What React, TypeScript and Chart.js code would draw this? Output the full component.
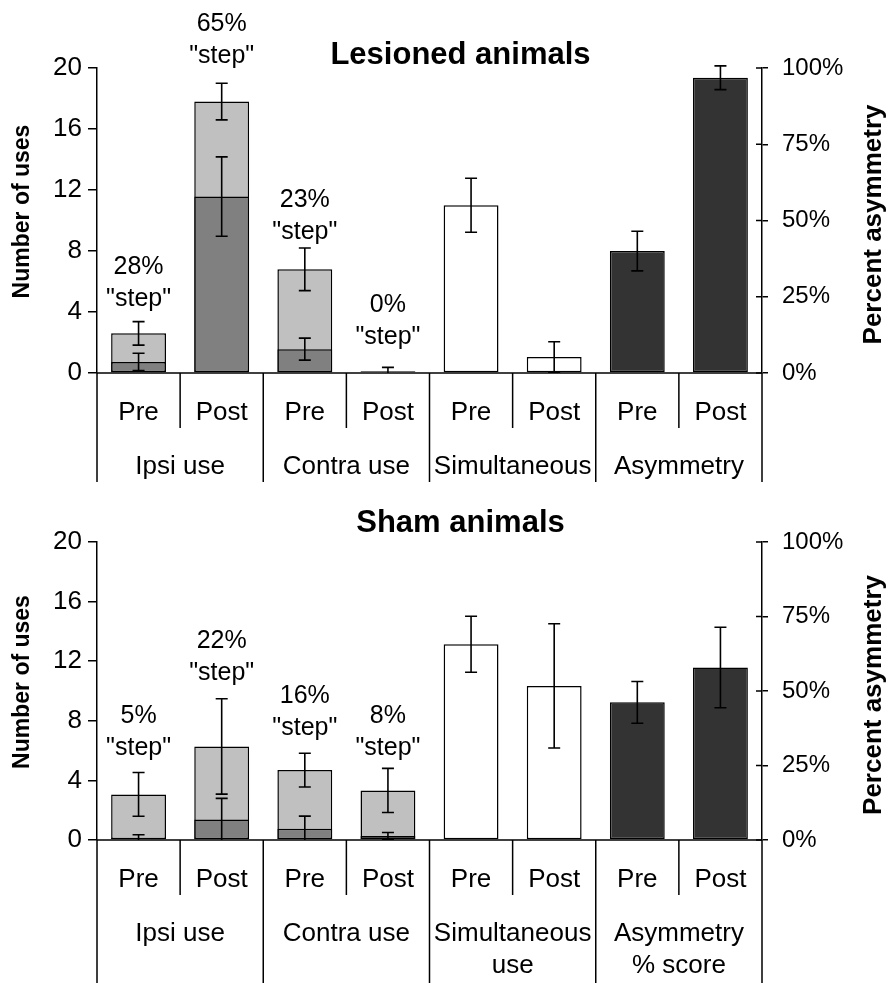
import React, { useEffect, useRef } from "react";
import { Chart, registerables } from "chart.js";

Chart.register(...registerables);

const FONT = '"Liberation Sans", Arial, Helvetica, sans-serif';
const INK = "#000000";

// Shared axis labels
const phaseLabels = ["Pre", "Post"];
const countTicks = [0, 4, 8, 12, 16, 20];
const percentTicks = [0, 25, 50, 75, 100];

// Lesioned animals — limb use bars in order: Ipsi Pre, Ipsi Post, Contra Pre, Contra Post
const lesionGroups = [["Ipsi use"], ["Contra use"], ["Simultaneous"], ["Asymmetry"]];
const lesionUse = [2.6, 17.8, 6.8, 0.12];
const lesionUseErr = [0.77, 1.2, 1.4, 0.25];
const lesionStepPct = [28, 65, 23, 0];
const lesionStepErr = [0.57, 2.6, 0.72, 0];
const lesionSimultaneous = [11.0, 1.05];
const lesionSimultaneousErr = [1.77, 1.0];
const lesionAsymmetry = [40, 96.8];
const lesionAsymmetryErr = [6.5, 3.9];
const lesionNoteLevel = [4.85, 20.8, 9.25, 2.36];

// Sham animals
const shamGroups = [["Ipsi use"], ["Contra use"], ["Simultaneous", "use"], ["Asymmetry", "% score"]];
const shamUse = [3.06, 6.28, 4.69, 3.33];
const shamUseErr = [1.47, 3.2, 1.13, 1.48];
const shamStepPct = [5, 22, 16, 8];
const shamStepErr = [0.2, 1.41, 0.85, 0.24];
const shamSimultaneous = [13.14, 10.34];
const shamSimultaneousErr = [1.88, 4.17];
const shamAsymmetry = [46.2, 57.9];
const shamAsymmetryErr = [7.0, 13.5];
const shamNoteLevel = [6.2, 11.23, 7.51, 6.17];

type PanelSpec = {
  title: string;
  groups: string[][];
  use: number[];
  useErr: number[];
  stepPct: number[];
  stepErr: number[];
  simul: number[];
  simulErr: number[];
  asym: number[];
  asymErr: number[];
  noteLevel: number[];
};

const lesionSpec: PanelSpec = {
  title: "Lesioned animals",
  groups: lesionGroups,
  use: lesionUse,
  useErr: lesionUseErr,
  stepPct: lesionStepPct,
  stepErr: lesionStepErr,
  simul: lesionSimultaneous,
  simulErr: lesionSimultaneousErr,
  asym: lesionAsymmetry,
  asymErr: lesionAsymmetryErr,
  noteLevel: lesionNoteLevel,
};

const shamSpec: PanelSpec = {
  title: "Sham animals",
  groups: shamGroups,
  use: shamUse,
  useErr: shamUseErr,
  stepPct: shamStepPct,
  stepErr: shamStepErr,
  simul: shamSimultaneous,
  simulErr: shamSimultaneousErr,
  asym: shamAsymmetry,
  asymErr: shamAsymmetryErr,
  noteLevel: shamNoteLevel,
};

type Layout = {
  top: number;
  height: number;
  padTop: number;
  padBottom: number;
  titleY: number;
  ruleDepth: number;
};

function makeDecor(spec: PanelSpec, lay: Layout) {
  return {
    id: "panelDecor",
    afterDatasetsDraw(chart: any) {
      const { ctx, chartArea, scales } = chart;
      const xs = scales.x;
      ctx.save();
      ctx.beginPath();
      ctx.rect(0, 0, chart.width, chartArea.bottom);
      ctx.clip();
      ctx.strokeStyle = INK;
      ctx.lineWidth = 1.6;
      const cap = 6;
      const errorBar = (i: number, s: any, v: number, e: number) => {
        const x = xs.getPixelForValue(i);
        const hi = v + e;
        const lo = v - e;
        const yHi = s.getPixelForValue(hi);
        const yLo = s.getPixelForValue(Math.max(lo, 0));
        ctx.beginPath();
        ctx.moveTo(x, yHi);
        ctx.lineTo(x, yLo);
        ctx.moveTo(x - cap, yHi);
        ctx.lineTo(x + cap, yHi);
        if (lo > 0) {
          ctx.moveTo(x - cap, yLo);
          ctx.lineTo(x + cap, yLo);
        }
        ctx.stroke();
      };
      spec.use.forEach((v, i) => {
        errorBar(i, scales.y, v, spec.useErr[i]);
        const stepVal = (v * spec.stepPct[i]) / 100;
        if (spec.stepErr[i] > 0) errorBar(i, scales.y, stepVal, spec.stepErr[i]);
      });
      spec.simul.forEach((v, i) => errorBar(4 + i, scales.y, v, spec.simulErr[i]));
      spec.asym.forEach((v, i) => errorBar(6 + i, scales.y1, v, spec.asymErr[i]));
      ctx.restore();
    },
    afterDraw(chart: any) {
      const { ctx, chartArea, scales } = chart;
      const xs = scales.x;
      const ys = scales.y;
      const y0 = ys.getPixelForValue(0);
      const cw = xs.getPixelForValue(1) - xs.getPixelForValue(0);
      const x0 = xs.getPixelForValue(0) - cw / 2;
      ctx.save();
      ctx.strokeStyle = INK;
      ctx.fillStyle = INK;
      ctx.lineWidth = 1.5;

      // category axis baseline
      ctx.beginPath();
      ctx.moveTo(chartArea.left, y0);
      ctx.lineTo(chartArea.right, y0);
      ctx.stroke();

      // inner half of the right-hand ticks
      ctx.beginPath();
      percentTicks.forEach((t) => {
        const yy = scales.y1.getPixelForValue(t);
        ctx.moveTo(chartArea.right - 6, yy);
        ctx.lineTo(chartArea.right, yy);
      });
      ctx.stroke();

      // category separators below the axis
      ctx.beginPath();
      const n = spec.groups.length * phaseLabels.length;
      for (let k = 0; k <= n; k++) {
        const xx = x0 + k * cw;
        const depth = k % 2 === 0 ? lay.ruleDepth : 55;
        ctx.moveTo(xx, y0);
        ctx.lineTo(xx, y0 + depth);
      }
      ctx.stroke();

      // Pre / Post and group labels
      ctx.textAlign = "center";
      ctx.textBaseline = "middle";
      ctx.font = `26px ${FONT}`;
      for (let i = 0; i < n; i++) {
        ctx.fillText(phaseLabels[i % 2], xs.getPixelForValue(i), y0 + 40);
      }
      spec.groups.forEach((lines, g) => {
        const cx = (xs.getPixelForValue(2 * g) + xs.getPixelForValue(2 * g + 1)) / 2;
        lines.forEach((line, j) => ctx.fillText(line, cx, y0 + 94 + j * 32));
      });

      // "step" share notes above the limb use bars
      ctx.font = `25px ${FONT}`;
      spec.stepPct.forEach((pct, i) => {
        const cx = xs.getPixelForValue(i);
        const yy = ys.getPixelForValue(spec.noteLevel[i]);
        ctx.fillText('"step"', cx, yy);
        ctx.fillText(`${pct}%`, cx, yy - 32);
      });

      // panel title
      ctx.font = `bold 31px ${FONT}`;
      ctx.fillText(spec.title, (chartArea.left + chartArea.right) / 2 + 31, lay.titleY);

      // axis titles
      const mid = (chartArea.top + chartArea.bottom) / 2;
      ctx.save();
      ctx.translate(23, mid - 9);
      ctx.rotate(-Math.PI / 2);
      ctx.font = `bold 23px ${FONT}`;
      ctx.fillText("Number of uses", 0, 0);
      ctx.restore();

      ctx.save();
      ctx.translate(874, mid + 4);
      ctx.rotate(-Math.PI / 2);
      ctx.font = `bold 26px ${FONT}`;
      ctx.fillText("Percent asymmetry", 0, 0);
      ctx.restore();

      ctx.restore();
    },
  };
}

function Panel({ spec, lay }: { spec: PanelSpec; lay: Layout }) {
  const ref = useRef<HTMLCanvasElement>(null);

  useEffect(() => {
    const canvas = ref.current;
    if (!canvas) return;
    const blank4 = [null, null, null, null];
    const labels = spec.groups.flatMap(() => phaseLabels);
    const stepVals = spec.use.map((v, i) => (v * spec.stepPct[i]) / 100);
    const bar = {
      borderColor: INK,
      borderWidth: 1.5,
      borderSkipped: false,
      grouped: false,
      barPercentage: 0.66,
      categoryPercentage: 1,
    };
    const chart = new Chart(canvas, {
      type: "bar",
      data: {
        labels,
        datasets: [
          {
            ...bar,
            label: '"step" use',
            data: [...stepVals.map((v) => (v > 0 ? v : null)), ...blank4],
            backgroundColor: "#808080",
          },
          {
            ...bar,
            label: "Limb use",
            data: [...spec.use, ...blank4],
            backgroundColor: "#c0c0c0",
          },
          {
            ...bar,
            label: "Simultaneous use",
            data: [...blank4, ...spec.simul, null, null],
            backgroundColor: "#ffffff",
          },
          {
            ...bar,
            label: "Asymmetry",
            data: [...blank4, null, null, ...spec.asym],
            backgroundColor: "#333333",
            yAxisID: "y1",
          },
        ] as any,
      },
      options: {
        animation: false,
        responsive: false,
        devicePixelRatio: 1,
        events: [],
        layout: { padding: { top: lay.padTop, bottom: lay.padBottom, left: 0, right: 0 } },
        plugins: {
          legend: { display: false },
          tooltip: { enabled: false },
          title: { display: false },
        },
        scales: {
          x: { display: false, offset: true },
          y: {
            position: "left",
            min: 0,
            max: 20,
            afterBuildTicks: (s: any) => {
              s.ticks = countTicks.map((value) => ({ value }));
            },
            afterFit: (s: any) => {
              s.width = 97;
            },
            ticks: { color: INK, font: { family: FONT, size: 26 }, padding: 6 },
            grid: { drawOnChartArea: false, drawTicks: true, tickLength: 9, color: INK, lineWidth: 1.5 },
            border: { display: true, color: INK, width: 1.5 },
          },
          y1: {
            position: "right",
            min: 0,
            max: 100,
            afterBuildTicks: (s: any) => {
              s.ticks = percentTicks.map((value) => ({ value }));
            },
            afterFit: (s: any) => {
              s.width = 129;
            },
            ticks: {
              color: INK,
              font: { family: FONT, size: 24 },
              padding: 14,
              callback: (v: any) => `${v}%`,
            },
            grid: { drawOnChartArea: false, drawTicks: true, tickLength: 6, color: INK, lineWidth: 1.5 },
            border: { display: true, color: INK, width: 1.5 },
          },
        },
      } as any,
      plugins: [makeDecor(spec, lay)],
    });
    return () => chart.destroy();
  }, [spec, lay]);

  return (
    <canvas
      ref={ref}
      width={891}
      height={lay.height}
      style={{ position: "absolute", left: 0, top: lay.top, width: 891, height: lay.height }}
    />
  );
}

const lesionLayout: Layout = { top: 0, height: 490, padTop: 68, padBottom: 117, titleY: 55, ruleDepth: 109 };
const shamLayout: Layout = { top: 490, height: 493, padTop: 52, padBottom: 143, titleY: 33, ruleDepth: 143 };

export default function App() {
  return (
    <div style={{ position: "absolute", left: 0, top: 0, width: 891, height: 983, background: "#ffffff" }}>
      <Panel spec={lesionSpec} lay={lesionLayout} />
      <Panel spec={shamSpec} lay={shamLayout} />
    </div>
  );
}
